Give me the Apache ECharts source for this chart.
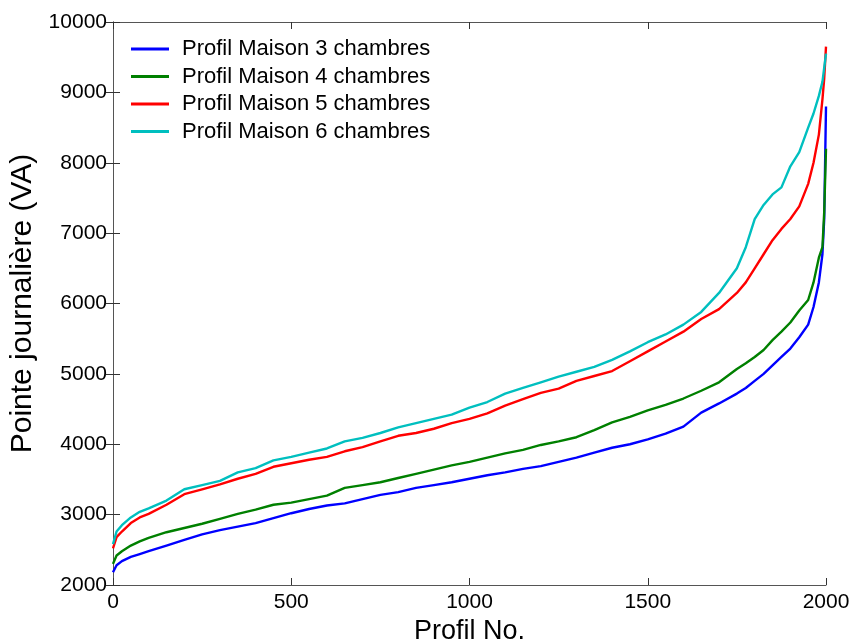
<!DOCTYPE html>
<html>
<head>
<meta charset="utf-8">
<script src="https://cdn.jsdelivr.net/npm/echarts@6/dist/echarts.min.js"></script>
<style>html,body{margin:0;padding:0;background:#fff}#c{width:851px;height:642px}</style>
</head>
<body>
<div id="c"></div>
<script>
const profil = [0, 10, 25, 50, 75, 100, 150, 200, 250, 300, 350, 400, 450, 500, 550, 600, 650, 700, 750, 800, 850, 900, 950, 1000, 1050, 1100, 1150, 1200, 1250, 1300, 1350, 1400, 1450, 1500, 1550, 1600, 1650, 1700, 1750, 1775, 1800, 1825, 1850, 1875, 1900, 1925, 1950, 1965, 1980, 1990, 1995, 2000];
const maison3 = [2180, 2280, 2340, 2400, 2440, 2480, 2560, 2640, 2720, 2780, 2830, 2880, 2950, 3020, 3080, 3130, 3160, 3220, 3280, 3320, 3380, 3420, 3460, 3510, 3560, 3600, 3650, 3690, 3750, 3810, 3880, 3950, 4000, 4070, 4150, 4250, 4450, 4580, 4720, 4800, 4900, 5000, 5120, 5240, 5360, 5520, 5700, 5950, 6300, 6700, 7200, 8800];
const maison4 = [2300, 2420, 2480, 2560, 2620, 2670, 2750, 2810, 2870, 2940, 3010, 3070, 3140, 3170, 3220, 3270, 3380, 3420, 3460, 3520, 3580, 3640, 3700, 3750, 3810, 3870, 3920, 3990, 4040, 4100, 4200, 4310, 4390, 4480, 4560, 4650, 4760, 4880, 5070, 5150, 5240, 5340, 5480, 5600, 5730, 5900, 6050, 6300, 6650, 6800, 7300, 8200];
const maison5 = [2520, 2680, 2760, 2880, 2960, 3010, 3140, 3290, 3360, 3430, 3510, 3580, 3680, 3730, 3780, 3820, 3900, 3960, 4040, 4120, 4160, 4220, 4300, 4360, 4440, 4550, 4640, 4730, 4790, 4900, 4970, 5040, 5180, 5320, 5460, 5600, 5780, 5920, 6150, 6300, 6500, 6700, 6900, 7060, 7200, 7380, 7700, 8000, 8400, 8900, 9200, 9650];
const maison6 = [2580, 2760, 2850, 2960, 3040, 3090, 3200, 3360, 3420, 3480, 3600, 3660, 3770, 3820, 3880, 3940, 4040, 4090, 4160, 4240, 4300, 4360, 4420, 4520, 4600, 4720, 4800, 4880, 4960, 5030, 5100, 5200, 5320, 5450, 5560, 5700, 5880, 6150, 6500, 6800, 7200, 7400, 7550, 7650, 7950, 8150, 8500, 8700, 8950, 9150, 9350, 9550];
const seriesNames = ['Profil Maison 3 chambres', 'Profil Maison 4 chambres', 'Profil Maison 5 chambres', 'Profil Maison 6 chambres'];
const seriesData = [maison3, maison4, maison5, maison6];
const colors = ['#0000ff', '#008000', '#ff0000', '#00bfbf'];
const xTicks = [0, 500, 1000, 1500, 2000];
const yTicks = [2000, 3000, 4000, 5000, 6000, 7000, 8000, 9000, 10000];

const chart = echarts.init(document.getElementById('c'), null, {renderer: 'canvas'});
const font = 'Liberation Sans, Arial, sans-serif';
const axisLine = {show: true, lineStyle: {color: '#555', width: 1}};
const tick = {show: true, inside: true, length: 7, lineStyle: {color: '#333'}};
const fmt = v => String(v);
chart.setOption({
  animation: false,
  backgroundColor: '#fff',
  color: colors,
  grid: {left: 113, top: 22, width: 713, height: 563, containLabel: false, outerBoundsMode: 'none'},
  legend: {
    orient: 'vertical', left: 126, top: 33,
    itemWidth: 38, itemHeight: 3, itemGap: 5.5, icon: 'rect',
    textStyle: {fontFamily: font, fontSize: 22, color: '#000', lineHeight: 22, padding: [0,0,0,8]},
    data: seriesNames
  },
  xAxis: [{
    type: 'value', min: xTicks[0], max: xTicks[xTicks.length-1], interval: 500,
    name: 'Profil No.', nameLocation: 'middle', nameGap: 33,
    nameTextStyle: {fontFamily: font, fontSize: 27, color: '#000'},
    axisLine: axisLine, axisTick: tick, splitLine: {show: false},
    axisLabel: {fontFamily: font, fontSize: 21, color: '#000', margin: 7, formatter: fmt}
  }, {
    type: 'value', position: 'top', min: xTicks[0], max: xTicks[xTicks.length-1], interval: 500,
    axisLine: axisLine, axisTick: tick, splitLine: {show: false}, axisLabel: {show: false}
  }],
  yAxis: [{
    type: 'value', min: yTicks[0], max: yTicks[yTicks.length-1], interval: 1000,
    name: 'Pointe journalière (VA)', nameLocation: 'middle', nameGap: 66,
    nameTextStyle: {fontFamily: font, fontSize: 30, color: '#000'},
    axisLine: axisLine, axisTick: tick, splitLine: {show: false},
    axisLabel: {fontFamily: font, fontSize: 21, color: '#000', margin: 6, formatter: fmt}
  }, {
    type: 'value', position: 'right', min: yTicks[0], max: yTicks[yTicks.length-1], interval: 1000,
    axisLine: axisLine, axisTick: tick, splitLine: {show: false}, axisLabel: {show: false}
  }],
  series: seriesNames.map((n, i) => ({
    name: n, type: 'line', showSymbol: false, symbol: 'none',
    lineStyle: {width: 2.4, color: colors[i]}, itemStyle: {color: colors[i]},
    data: profil.map((x, j) => [x, seriesData[i][j]])
  }))
});
</script>
</body>
</html>
